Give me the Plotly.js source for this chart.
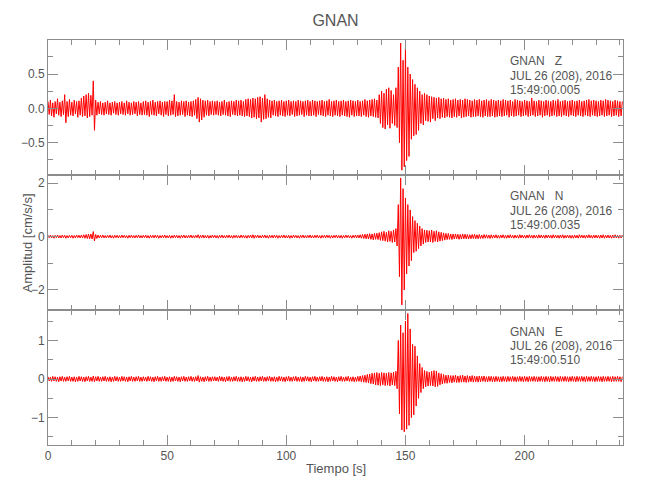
<!DOCTYPE html>
<html><head><meta charset="utf-8">
<script src="https://cdn.plot.ly/plotly-3.0.1.min.js"></script>
<style>html,body{margin:0;padding:0;background:#fff}</style>
</head><body><div id="chart" style="width:650px;height:500px"></div>
<script>
const station = "GNAN";
const components = ["Z", "N", "E"];
const dateLabel = "JUL 26 (208), 2016";
const startTimes = ["15:49:00.005", "15:49:00.035", "15:49:00.510"];
const xTitle = "Tiempo [s]";
const yTitle = "Amplitud [cm/s/s]";
const dt = 0.5; // seconds between the peak values

const ampZ = [
.1,-.09,.12,-.11,.08,-.13,.1,-.08,.14,-.1,.09,-.12,.11,-.09,.2,-.21,.1,-.12,.13,-.1,
.09,-.11,.12,-.08,.1,-.13,.11,-.1,.15,-.12,.18,-.11,.2,-.14,.22,-.12,.19,-.1,.4,-.32,
.12,-.1,.09,-.08,.1,-.09,.08,-.1,.09,-.08,.11,-.09,.08,-.1,.09,-.07,.1,-.09,.08,-.1,
.09,-.08,.1,-.09,.08,-.1,.11,-.08,.09,-.1,.08,-.09,.1,-.08,.09,-.11,.1,-.09,.08,-.1,
.1,-.09,.11,-.1,.09,-.12,.1,-.09,.12,-.1,.09,-.11,.1,-.08,.11,-.1,.09,-.12,.1,-.09,
.1,-.11,.12,-.1,.11,-.09,.2,-.12,.1,-.11,.09,-.1,.11,-.09,.1,-.12,.11,-.1,.09,-.11,
.1,-.12,.11,-.1,.13,-.15,.16,-.2,.14,-.17,.12,-.13,.11,-.1,.12,-.11,.1,-.09,.11,-.1,
.1,-.09,.11,-.1,.09,-.11,.1,-.09,.12,-.1,.09,-.11,.1,-.12,.11,-.09,.1,-.1,.12,-.11,
.11,-.1,.12,-.11,.1,-.12,.13,-.11,.14,-.12,.13,-.14,.15,-.13,.14,-.15,.16,-.14,.17,-.2,
.15,-.16,.2,-.15,.14,-.13,.12,-.14,.11,-.1,.12,-.11,.1,-.12,.11,-.1,.12,-.11,.1,-.12,
.11,-.1,.12,-.11,.1,-.09,.11,-.12,.1,-.11,.12,-.1,.11,-.09,.1,-.12,.11,-.1,.12,-.11,
.1,-.11,.12,-.1,.11,-.12,.1,-.09,.11,-.1,.12,-.11,.1,-.12,.11,-.1,.13,-.11,.1,-.12,
.11,-.1,.12,-.11,.1,-.12,.11,-.1,.12,-.11,.1,-.12,.11,-.13,.12,-.1,.11,-.12,.1,-.11,
.12,-.11,.1,-.12,.11,-.1,.13,-.12,.11,-.13,.12,-.11,.13,-.12,.14,-.13,.12,-.14,.2,-.22,
.25,-.28,.22,-.3,.28,-.24,.3,-.29,.26,-.22,.2,-.25,.3,-.28,.6,-.5,.95,-.9,.7,-.85,
.88,-.76,.6,-.7,.5,-.45,.42,-.4,.35,-.38,.3,-.32,.25,-.22,.2,-.24,.22,-.18,.2,-.19,
.18,-.2,.17,-.15,.16,-.18,.15,-.14,.16,-.15,.14,-.13,.15,-.14,.13,-.12,.14,-.13,.12,-.14,
.13,-.12,.14,-.13,.12,-.11,.13,-.14,.12,-.13,.14,-.12,.13,-.11,.12,-.13,.11,-.12,.13,-.12,
.12,-.11,.13,-.12,.11,-.13,.12,-.11,.13,-.12,.11,-.12,.13,-.11,.12,-.13,.11,-.12,.12,-.11,
.11,-.12,.13,-.11,.12,-.1,.11,-.13,.12,-.11,.1,-.12,.13,-.11,.12,-.1,.11,-.12,.1,-.11,
.12,-.1,.11,-.12,.1,-.11,.15,-.1,.11,-.12,.1,-.11,.12,-.1,.11,-.13,.1,-.11,.12,-.1,
.11,-.12,.1,-.11,.12,-.1,.11,-.12,.13,-.11,.1,-.12,.11,-.1,.12,-.11,.1,-.12,.11,-.1,
.12,-.11,.1,-.12,.11,-.1,.12,-.11,.1,-.12,.11,-.1,.12,-.11,.13,-.12,.11,-.1,.12,-.11,
.11,-.12,.1,-.11,.12,-.1,.11,-.12,.13,-.11,.12,-.1,.11,-.12,.1,-.11,.12,-.1,.11,-.12,
.1,-.11,.1
];

const ampN = [
.05,-.04,.06,-.05,.04,-.06,.05,-.04,.06,-.05,.04,-.05,.06,-.04,.05,-.06,.04,-.05,.05,-.04,
.05,-.06,.04,-.05,.06,-.04,.05,-.05,.06,-.05,.07,-.06,.08,-.07,.09,-.08,.1,-.09,.19,-.16,
.08,-.07,.06,-.05,.05,-.04,.06,-.05,.04,-.05,.05,-.04,.06,-.05,.04,-.06,.05,-.04,.05,-.05,
.04,-.05,.06,-.04,.05,-.05,.04,-.06,.05,-.04,.06,-.05,.04,-.05,.05,-.04,.06,-.05,.04,-.05,
.05,-.04,.06,-.05,.04,-.06,.05,-.04,.05,-.05,.06,-.04,.05,-.06,.04,-.05,.05,-.04,.06,-.05,
.04,-.05,.05,-.06,.04,-.05,.06,-.04,.05,-.05,.04,-.06,.05,-.04,.06,-.05,.04,-.05,.05,-.04,
.06,-.05,.04,-.05,.05,-.04,.07,-.06,.05,-.04,.06,-.05,.04,-.05,.05,-.06,.04,-.05,.06,-.04,
.05,-.05,.04,-.06,.05,-.04,.06,-.05,.04,-.05,.05,-.04,.06,-.05,.04,-.06,.05,-.04,.05,-.05,
.04,-.05,.06,-.04,.05,-.05,.04,-.06,.05,-.04,.06,-.05,.07,-.06,.05,-.04,.06,-.05,.04,-.05,
.05,-.04,.06,-.05,.04,-.06,.05,-.04,.05,-.05,.06,-.04,.05,-.06,.04,-.05,.05,-.04,.06,-.05,
.04,-.05,.05,-.06,.04,-.05,.06,-.04,.05,-.05,.04,-.06,.05,-.04,.06,-.05,.04,-.05,.05,-.04,
.06,-.05,.04,-.05,.05,-.04,.06,-.05,.04,-.06,.05,-.04,.05,-.05,.06,-.04,.05,-.06,.04,-.05,
.05,-.04,.06,-.05,.04,-.05,.05,-.06,.04,-.05,.06,-.04,.05,-.05,.04,-.06,.05,-.04,.06,-.05,
.06,-.05,.07,-.06,.08,-.07,.09,-.08,.1,-.09,.11,-.1,.1,-.12,.12,-.1,.13,-.11,.15,-.14,
.18,-.15,.2,-.17,.16,-.2,.22,-.18,.2,-.22,.25,-.2,.3,-.35,1.2,-1.5,2.2,-2.56,1.8,-2.0,
1.45,-1.4,1.2,-1.1,1.0,-.9,.75,-.6,.6,-.55,.5,-.45,.4,-.35,.3,-.28,.25,-.22,.24,-.2,
.22,-.2,.25,-.22,.2,-.18,.22,-.2,.18,-.17,.16,-.15,.14,-.13,.12,-.11,.12,-.1,.1,-.11,
.1,-.09,.1,-.08,.09,-.1,.08,-.09,.1,-.08,.09,-.08,.08,-.09,.07,-.08,.08,-.07,.09,-.08,
.07,-.08,.08,-.07,.06,-.07,.08,-.06,.07,-.06,.06,-.07,.07,-.06,.06,-.05,.07,-.06,.05,-.06,
.06,-.05,.07,-.06,.05,-.06,.06,-.05,.07,-.05,.05,-.06,.06,-.05,.05,-.06,.07,-.05,.06,-.05,
.05,-.06,.06,-.05,.07,-.05,.05,-.06,.06,-.05,.05,-.06,.07,-.05,.06,-.05,.05,-.06,.06,-.05,
.06,-.05,.05,-.06,.07,-.05,.06,-.05,.05,-.06,.06,-.05,.07,-.06,.05,-.05,.06,-.05,.05,-.06,
.05,-.06,.06,-.05,.05,-.06,.07,-.05,.06,-.05,.05,-.06,.06,-.05,.07,-.05,.05,-.06,.06,-.05,
.06,-.05,.05,-.06,.06,-.05,.07,-.06,.05,-.05,.06,-.05,.05,-.06,.06,-.05,.07,-.05,.05,-.06,
.05,-.05,.06
];

const ampE = [
.06,-.05,.05,-.06,.07,-.05,.06,-.06,.05,-.07,.06,-.05,.07,-.06,.05,-.06,.06,-.05,.07,-.06,
.05,-.06,.06,-.07,.05,-.06,.07,-.05,.06,-.06,.05,-.07,.06,-.05,.07,-.06,.05,-.06,.08,-.07,
.06,-.05,.07,-.06,.05,-.06,.06,-.05,.07,-.06,.05,-.06,.06,-.07,.05,-.06,.07,-.05,.06,-.06,
.05,-.06,.07,-.05,.06,-.06,.05,-.07,.06,-.05,.07,-.06,.05,-.06,.06,-.05,.07,-.06,.05,-.06,
.06,-.05,.05,-.06,.07,-.05,.06,-.06,.05,-.07,.06,-.05,.07,-.06,.05,-.06,.06,-.05,.07,-.06,
.05,-.06,.06,-.07,.05,-.06,.07,-.05,.06,-.06,.05,-.07,.06,-.05,.07,-.06,.05,-.06,.06,-.05,
.07,-.06,.05,-.06,.06,-.05,.09,-.08,.06,-.06,.05,-.07,.06,-.05,.07,-.06,.05,-.06,.06,-.05,
.06,-.05,.05,-.06,.07,-.05,.06,-.06,.05,-.07,.06,-.05,.07,-.06,.05,-.06,.06,-.05,.07,-.06,
.05,-.06,.06,-.07,.05,-.06,.07,-.05,.06,-.06,.05,-.07,.06,-.05,.07,-.06,.05,-.06,.06,-.05,
.07,-.06,.05,-.06,.06,-.05,.07,-.06,.05,-.06,.06,-.07,.05,-.06,.07,-.05,.06,-.06,.05,-.07,
.06,-.05,.07,-.06,.05,-.06,.06,-.05,.07,-.06,.05,-.06,.06,-.07,.05,-.06,.07,-.05,.06,-.06,
.05,-.07,.06,-.05,.07,-.06,.05,-.06,.06,-.05,.07,-.06,.05,-.06,.06,-.07,.05,-.06,.07,-.05,
.06,-.06,.05,-.07,.06,-.05,.07,-.06,.05,-.06,.06,-.05,.07,-.06,.05,-.06,.06,-.07,.05,-.06,
.07,-.06,.08,-.07,.09,-.08,.1,-.09,.12,-.1,.13,-.12,.15,-.13,.16,-.15,.17,-.16,.15,-.17,
.17,-.15,.16,-.17,.15,-.16,.17,-.18,.16,-.15,.18,-.17,.2,-.25,1.0,-.9,1.4,-1.32,1.2,-1.37,
1.5,-1.3,1.7,-1.2,1.3,-1.0,.9,-.93,.85,-.7,.6,-.5,.4,-.35,.3,-.25,.22,-.2,.2,-.18,
.18,-.17,.2,-.18,.22,-.2,.21,-.19,.16,-.15,.14,-.13,.12,-.11,.1,-.11,.1,-.09,.09,-.1,
.09,-.08,.1,-.09,.08,-.09,.09,-.08,.1,-.08,.08,-.09,.09,-.08,.08,-.07,.09,-.08,.08,-.07,
.07,-.08,.08,-.07,.07,-.06,.08,-.07,.06,-.07,.07,-.06,.07,-.07,.06,-.07,.07,-.06,.06,-.07,
.06,-.07,.07,-.06,.06,-.07,.07,-.06,.06,-.06,.07,-.06,.06,-.07,.06,-.06,.07,-.06,.06,-.07,
.07,-.06,.06,-.07,.07,-.06,.06,-.06,.07,-.06,.06,-.07,.06,-.06,.07,-.06,.06,-.07,.07,-.06,
.06,-.07,.07,-.06,.06,-.06,.07,-.06,.06,-.07,.07,-.06,.06,-.06,.07,-.06,.06,-.07,.06,-.06,
.07,-.06,.06,-.07,.07,-.06,.06,-.06,.07,-.06,.06,-.07,.07,-.06,.06,-.06,.07,-.06,.06,-.07,
.06,-.06,.07,-.06,.06,-.07,.07,-.06,.06,-.06,.07,-.06,.06,-.07,.07,-.06,.06,-.06,.07,-.06,
.06,-.07,.06
];

const series = [ampZ, ampN, ampE];
const yRanges = [[-0.97, 0.995], [-2.75, 2.31], [-1.71, 1.79]];
const yMajor = [0.5, 2, 1];
const yMinor = [0.25, 1, 0.5];
const yFormat = [".1f", "d", "d"];

const font = "Liberation Sans, Arial, sans-serif";
const axisColor = "#8c8c8c";
const textColor = "#555555";

const traces = series.map((amp, k) => ({
  type: "scatter", mode: "lines",
  x: amp.map((_, i) => i * dt), y: amp,
  xaxis: k === 0 ? "x" : "x" + (k + 1),
  yaxis: k === 0 ? "y" : "y" + (k + 1),
  line: {color: "#ff0000", width: 1, simplify: false},
  hoverinfo: "skip", showlegend: false
}));

const layout = {
  width: 650, height: 500,
  margin: {l: 48, r: 27, t: 40, b: 55},
  paper_bgcolor: "#fff", plot_bgcolor: "#fff",
  font: {family: font, color: textColor, size: 12},
  title: {text: station, x: 0.5, xref: "paper", y: 0.96, yref: "container", yanchor: "middle",
          font: {family: font, size: 16, color: textColor}},
  showlegend: false,
  annotations: []
};

const domains = [[2/3, 1], [1/3, 2/3], [0, 1/3]];
for (let k = 0; k < 3; k++) {
  const sfx = k === 0 ? "" : String(k + 1);
  layout["xaxis" + sfx] = {
    domain: [0, 1], anchor: "y" + sfx, range: [0, 241.3],
    showline: true, linecolor: axisColor, linewidth: 1, mirror: "allticks",
    ticks: "inside", ticklen: 10, tickcolor: axisColor, tickwidth: 1,
    dtick: 50, tick0: 0, showgrid: false, zeroline: false,
    showticklabels: k === 2,
    tickfont: {family: font, size: 12, color: textColor},
    minor: {dtick: 10, ticklen: 5, ticks: "inside", tickcolor: axisColor, showgrid: false}
  };
  if (k > 0) layout["xaxis" + sfx].matches = "x";
  layout["yaxis" + sfx] = {
    domain: domains[k], anchor: "x" + sfx, range: yRanges[k],
    showline: true, linecolor: axisColor, linewidth: 1, mirror: "allticks",
    ticks: "inside", ticklen: 10, tickcolor: axisColor, tickwidth: 1,
    dtick: yMajor[k], tick0: 0, tickformat: yFormat[k],
    showgrid: false, zeroline: false,
    tickfont: {family: font, size: 12, color: textColor},
    minor: {dtick: yMinor[k], ticklen: 5, ticks: "inside", tickcolor: axisColor, showgrid: false}
  };
}

const labelY = [[0.948, 0.912, 0.877], [0.615, 0.579, 0.544], [0.279, 0.244, 0.21]];
for (let k = 0; k < 3; k++) {
  const lines = [station + "\u00a0\u00a0\u00a0" + components[k], dateLabel, startTimes[k]];
  lines.forEach((t, j) => layout.annotations.push({
    text: t, xref: "paper", yref: "paper", x: 0.8, y: labelY[k][j],
    xanchor: "left", yanchor: "middle", showarrow: false,
    font: {family: font, size: 12, color: textColor}
  }));
}
layout.annotations.push({
  text: xTitle, xref: "paper", yref: "paper", x: 0.5, y: -0.057,
  xanchor: "center", yanchor: "middle", showarrow: false,
  font: {family: font, size: 13, color: textColor}
});
layout.annotations.push({
  text: yTitle, xref: "paper", yref: "paper", x: -0.035, y: 0.5, textangle: -90,
  xanchor: "center", yanchor: "middle", showarrow: false,
  font: {family: font, size: 13, color: textColor}
});

Plotly.newPlot("chart", traces, layout, {displayModeBar: false, staticPlot: true});
</script>
</body></html>
